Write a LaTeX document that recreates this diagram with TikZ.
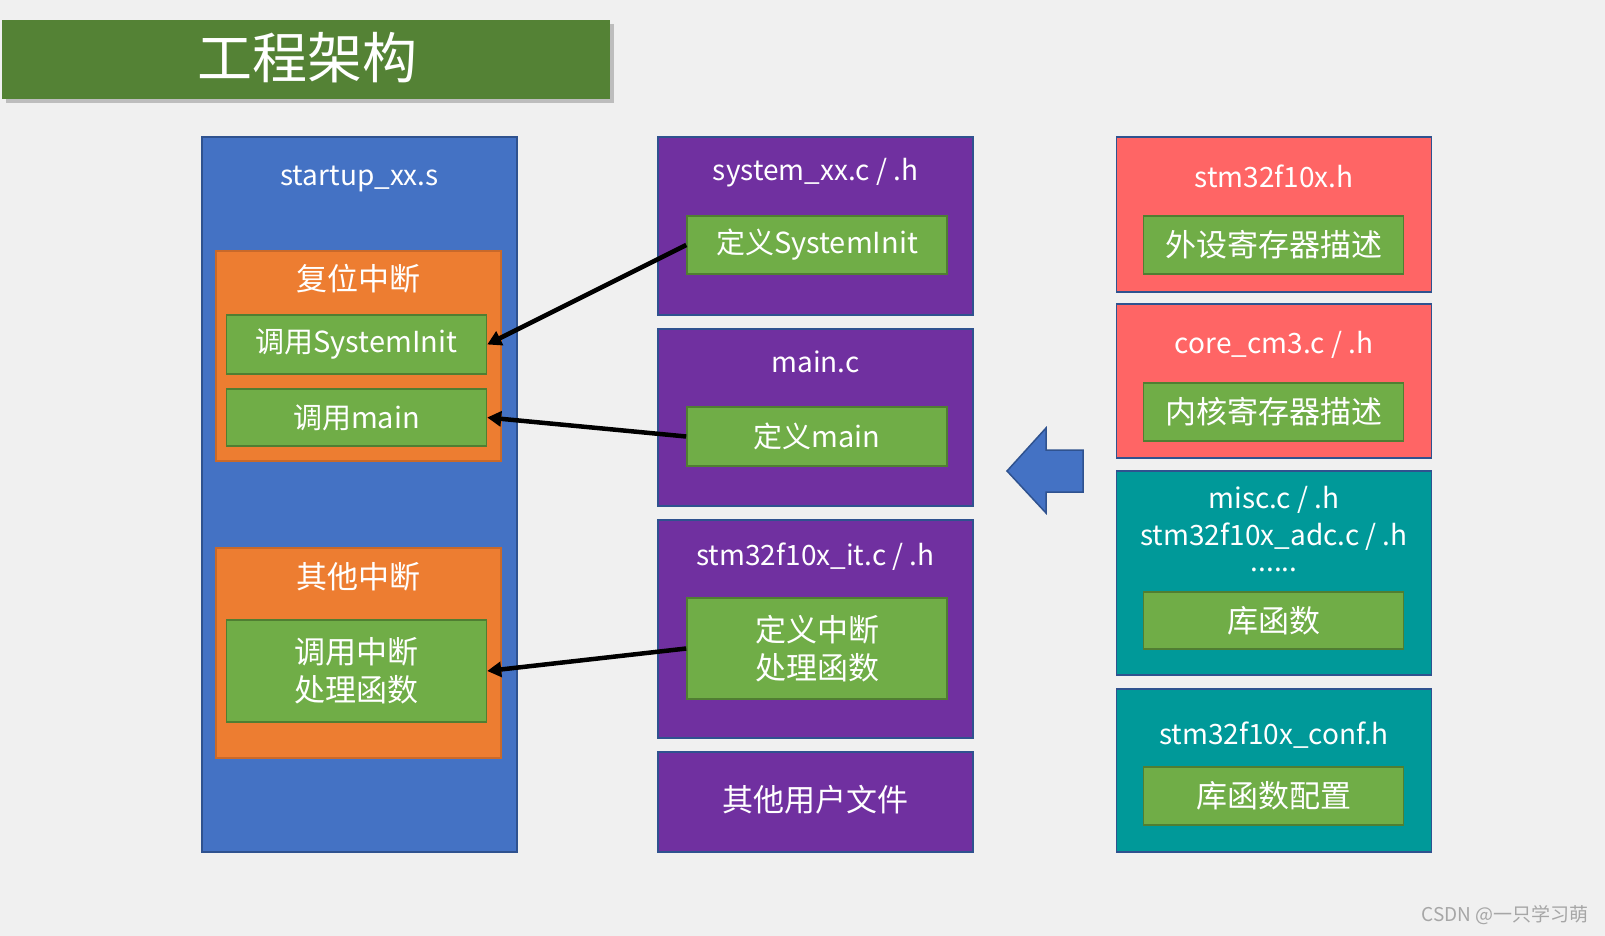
\documentclass[tikz,border=0pt]{standalone}
\usepackage{fontspec}
\setmainfont{Noto Sans CJK SC}
\usetikzlibrary{arrows.meta,shadows}

\definecolor{pagebg}{HTML}{F0F0F0}
\definecolor{barfill}{HTML}{548235}
\definecolor{bluefill}{HTML}{4472C4}
\definecolor{boxline}{HTML}{2F528F}
\definecolor{orangefill}{HTML}{ED7D31}
\definecolor{orangeline}{HTML}{C9692A}
\definecolor{greenfill}{HTML}{70AD47}
\definecolor{greenline}{HTML}{507E32}
\definecolor{purplefill}{HTML}{7030A0}
\definecolor{redfill}{HTML}{FF6565}
\definecolor{tealfill}{HTML}{009999}
\definecolor{marktext}{HTML}{A6A6A6}

\tikzset{
  filebox/.style={draw=boxline, line width=1.5pt, inner sep=0pt, minimum width=315pt},
  startbox/.style={filebox, fill=bluefill},
  userbox/.style={filebox, fill=purplefill},
  regbox/.style={filebox, fill=redfill},
  libbox/.style={filebox, fill=tealfill},
  irqbox/.style={draw=orangeline, line width=1.5pt, fill=orangefill, inner sep=0pt,
    minimum width=285pt, minimum height=210pt},
  funcbox/.style={draw=greenline, line width=1.5pt, fill=greenfill, inner sep=0pt,
    minimum width=260pt, text=white, align=center,
    font=\fontsize{29}{38}\selectfont},
  boxtitle/.style={text=white, align=center, inner sep=0pt,
    font=\fontsize{28}{37}\selectfont},
  hanzi/.style={font=\fontsize{31}{38}\selectfont},
  callto/.style={line width=4.5pt, -{Triangle[length=14pt,width=15pt]}}
}

\begin{document}
\begin{tikzpicture}[x=1pt,y=-1pt]

\fill[pagebg] (0,0) rectangle (1605,936);
\useasboundingbox (0,0) rectangle (1605,936);

\node[fill=barfill, minimum width=608pt, minimum height=79pt, inner sep=0pt,
  drop shadow={opacity=0.45, shadow xshift=4pt, shadow yshift=-4pt}] (bar) at (306,60) {};
\node[text=white, font=\fontsize{55}{60}\selectfont] (heading) at (307,58) {工程架构};

\node[startbox, minimum height=715pt] (startup) at (359.5,494.5) {};
\node[boxtitle] (startuplbl) at (359.5,179) {startup\_xx.s};
\node[irqbox] (reset) at (358.5,356) {};
\node[boxtitle, hanzi] (resetlbl) at (358.5,279) {复位中断};
\node[funcbox, minimum height=59pt] (callsys) at (356.5,344.5) {调用SystemInit};
\node[funcbox, minimum height=57pt] (callmain) at (356.5,417.5) {调用main};
\node[irqbox] (other) at (358.5,653) {};
\node[boxtitle, hanzi] (otherlbl) at (358.5,577) {其他中断};
\node[funcbox, hanzi, minimum height=102pt] (callirq) at (356.5,671) {调用中断\\处理函数};

\node[userbox, minimum height=178pt] (system) at (815.5,226) {};
\node[boxtitle] (systemlbl) at (815.5,173) {system\_xx.c / .h};
\node[funcbox, minimum height=58pt] (defsys) at (817,245) {定义SystemInit};
\node[userbox, minimum height=177pt] (mainc) at (815.5,417.5) {};
\node[boxtitle] (mainclbl) at (815.5,362) {main.c};
\node[funcbox, minimum height=59pt] (defmain) at (817,436.5) {定义main};
\node[userbox, minimum height=218pt] (itc) at (815.5,629) {};
\node[boxtitle] (itclbl) at (815.5,557) {stm32f10x\_it.c / .h};
\node[funcbox, hanzi, minimum height=101pt] (defirq) at (817,648.5) {定义中断\\处理函数};
\node[userbox, minimum height=100pt] (userfiles) at (815.5,802) {};
\node[boxtitle, hanzi] (userfileslbl) at (815.5,800) {其他用户文件};

\node[regbox, minimum height=155pt] (periph) at (1274,214.5) {};
\node[boxtitle] (periphlbl) at (1274,176) {stm32f10x.h};
\node[funcbox, hanzi, minimum height=58pt] (periphreg) at (1273.5,245) {外设寄存器描述};
\node[regbox, minimum height=154pt] (core) at (1274,381) {};
\node[boxtitle] (corelbl) at (1274,345) {core\_cm3.c / .h};
\node[funcbox, hanzi, minimum height=58pt] (corereg) at (1273.5,412) {内核寄存器描述};
\node[libbox, minimum height=204pt] (lib) at (1274,573) {};
\node[boxtitle] (liblbl) at (1274,518) {misc.c / .h\\stm32f10x\_adc.c / .h};
\node[boxtitle, anchor=base] (libdots) at (1274,571) {......};
\node[funcbox, hanzi, minimum height=57pt] (libfunc) at (1273.5,620.5) {库函数};
\node[libbox, minimum height=163pt] (conf) at (1274,770.5) {};
\node[boxtitle] (conflbl) at (1274,735) {stm32f10x\_conf.h};
\node[funcbox, hanzi, minimum height=58pt] (confset) at (1273.5,796) {库函数配置};

\filldraw[fill=bluefill, draw=boxline, line width=1.5pt]
  (1007,471) -- (1046,428) -- (1046,450) -- (1083,450) -- (1083,492)
  -- (1046,492) -- (1046,513) -- cycle;

\draw[callto] (defsys.west) -- (callsys.east);
\draw[callto] (defmain.west) -- (callmain.east);
\draw[callto] (defirq.west) -- (callirq.east);

\node[anchor=east, text=marktext, font=\fontsize{19}{22}\selectfont] (mark) at (1592,915) {CSDN @一只学习萌};

\end{tikzpicture}
\end{document}
